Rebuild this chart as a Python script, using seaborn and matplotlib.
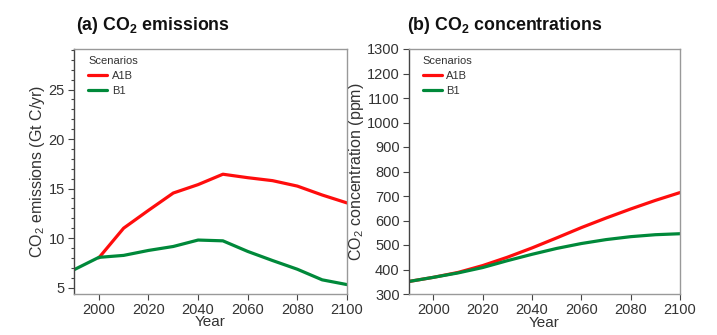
import matplotlib
matplotlib.use("Agg")
import matplotlib.pyplot as plt
import seaborn as sns
import pandas as pd
from matplotlib.ticker import MultipleLocator

# ---- data ----
years = [1990, 2000, 2010, 2020, 2030, 2040, 2050, 2060, 2070, 2080, 2090, 2100]
emis_years_a1b = [2000, 2010, 2020, 2030, 2040, 2050, 2060, 2070, 2080, 2090, 2100]
emis_a1b = [8.0, 11.0, 12.8, 14.55, 15.4, 16.45, 16.1, 15.8, 15.25, 14.35, 13.55]
emis_b1 = [6.8, 8.05, 8.25, 8.75, 9.15, 9.8, 9.72, 8.65, 7.73, 6.85, 5.78, 5.3]
conc_a1b = [351, 368, 388, 416, 450, 488, 529, 571, 610, 647, 682, 714]
conc_b1 = [351, 368, 386, 408, 436, 462, 486, 506, 522, 534, 542, 546]
scenarios = ["A1B", "B1"]
colors = {"A1B": "#ff0d0d", "B1": "#00893a"}

emis_df = pd.concat([
    pd.DataFrame({"Year": emis_years_a1b, "value": emis_a1b, "Scenario": "A1B"}),
    pd.DataFrame({"Year": years, "value": emis_b1, "Scenario": "B1"}),
])
conc_df = pd.concat([
    pd.DataFrame({"Year": years, "value": conc_a1b, "Scenario": "A1B"}),
    pd.DataFrame({"Year": years, "value": conc_b1, "Scenario": "B1"}),
])

sns.set_theme(style="white")
plt.rcParams["font.family"] = ["Liberation Sans", "DejaVu Sans"]
plt.rcParams["mathtext.fontset"] = "custom"
plt.rcParams["mathtext.rm"] = "Liberation Sans"
plt.rcParams["mathtext.it"] = "Liberation Sans"
plt.rcParams["mathtext.bf"] = "Liberation Sans:bold"
plt.rcParams["mathtext.default"] = "regular"

fig = plt.figure(figsize=(7.17, 3.35), dpi=100)
ax1 = fig.add_axes([74 / 717, 1 - 293.5 / 335, 273 / 717, 244.5 / 335])
ax2 = fig.add_axes([408.7 / 717, 1 - 294 / 335, 271.3 / 717, 245 / 335])

txt = "#333333"
for ax, df in [(ax1, emis_df), (ax2, conc_df)]:
    sns.lineplot(data=df, x="Year", y="value", hue="Scenario", hue_order=scenarios,
                 palette=colors, linewidth=2.3, ax=ax, legend=True)
    ax.set_xlim(1990, 2100)
    ax.xaxis.set_major_locator(MultipleLocator(20))
    ax.set_xlabel("Year", fontsize=11, color=txt, labelpad=-1)
    for s in ["top", "right", "bottom"]:
        ax.spines[s].set_color("#999999")
        ax.spines[s].set_linewidth(1.0)
    ax.spines["left"].set_color("#444444")
    ax.spines["left"].set_linewidth(1.0)
    ax.tick_params(axis="both", which="major", direction="out", length=4.5, width=0.8,
                   colors="#444444", labelcolor=txt, labelsize=10.5, pad=2,
                   left=True, bottom=True)
    leg = ax.legend(title="Scenarios", loc="upper left", bbox_to_anchor=(0.028, 1.0),
                    frameon=False, fontsize=8, title_fontsize=8, handlelength=1.7,
                    handletextpad=0.4, labelspacing=0.45, borderaxespad=0.2)
    leg._legend_box.align = "left"
    leg.get_title().set_color(txt)
    for t in leg.get_texts():
        t.set_color(txt)
    for l in leg.get_lines():
        l.set_linewidth(2.3)

ax1.set_ylim(4.4, 29.1)
ax1.yaxis.set_major_locator(MultipleLocator(5))
ax1.yaxis.set_minor_locator(MultipleLocator(1))
ax1.tick_params(axis="y", which="minor", direction="out", length=2.5, width=0.8,
                colors="#444444", left=True)
ax1.set_ylabel("CO$_2$ emissions (Gt C/yr)", fontsize=11.5, color=txt, labelpad=1)

ax2.set_ylim(300, 1300)
ax2.yaxis.set_major_locator(MultipleLocator(100))
ax2.set_ylabel("CO$_2$ concentration (ppm)", fontsize=11.5, color=txt, labelpad=0.5)

fig.text(76 / 717, 1 - 30 / 335, r"(a) CO$_\mathbf{2}$ emissions", fontsize=12.8,
         fontweight="bold", color="#111111", va="baseline", ha="left")
fig.text(407 / 717, 1 - 29.5 / 335, r"(b) CO$_\mathbf{2}$ concentrations", fontsize=12.8,
         fontweight="bold", color="#111111", va="baseline", ha="left")

fig.savefig("out.png", dpi=100)
